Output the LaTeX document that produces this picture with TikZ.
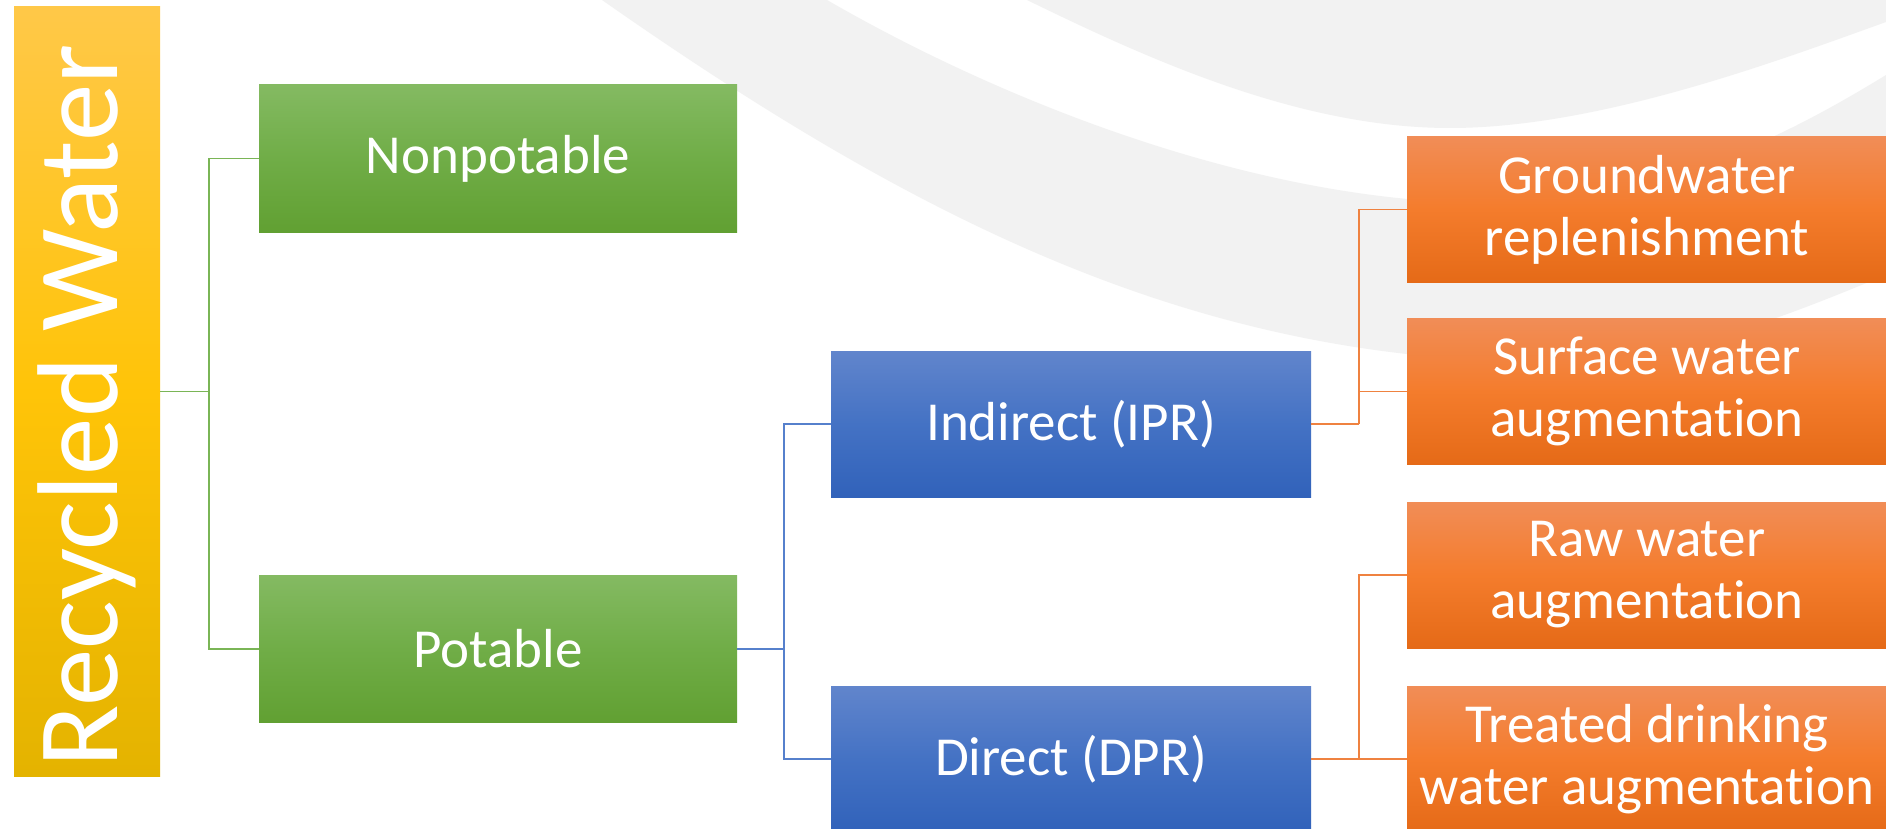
\documentclass[tikz,border=0pt]{standalone}
\usepackage{fontspec}
\setmainfont{Carlito}[RawFeature={-liga;-clig;-calt;-dlig}]
\definecolor{bggray}{HTML}{F2F2F2}
\definecolor{gTop}{HTML}{84BA62}
\definecolor{gMid}{HTML}{70AD47}
\definecolor{gBot}{HTML}{61A032}
\definecolor{bTop}{HTML}{6185CC}
\definecolor{bMid}{HTML}{4472C4}
\definecolor{bBot}{HTML}{3162BA}
\definecolor{oTop}{HTML}{F18D57}
\definecolor{oMid}{HTML}{F47C2C}
\definecolor{oBot}{HTML}{E56A17}
\definecolor{yTop}{HTML}{FFC848}
\definecolor{yMid}{HTML}{FFC408}
\definecolor{yBot}{HTML}{E4B300}
\definecolor{gLine}{HTML}{7AB556}
\definecolor{bLine}{HTML}{5680CC}
\definecolor{oLine}{HTML}{EF8240}
\tikzset{
  box/.style={rectangle, inner sep=0pt, text=white, align=center,
    font=\fontsize{55}{62}\selectfont},
  gbox/.style={box, minimum width=478pt, minimum height=147pt,
    top color=gTop, bottom color=gBot, middle color=gMid},
  bbox/.style={box, minimum width=480pt, minimum height=146pt,
    top color=bTop, bottom color=bBot, middle color=bMid},
  obox/.style={box, minimum width=480pt, minimum height=146pt,
    top color=oTop, bottom color=oBot, middle color=oMid},
  ybox/.style={box, minimum width=146pt, minimum height=769pt,
    top color=yTop, bottom color=yBot, middle color=yMid},
  gline/.style={draw=gLine, line width=1.6pt},
  bline/.style={draw=bLine, line width=1.6pt},
  oline/.style={draw=oLine, line width=1.6pt},
}
\begin{document}
\begin{tikzpicture}[x=1pt,y=-1pt]
\useasboundingbox (0,0) rectangle (1886,829);
\clip (0,0) rectangle (1886,829);
\fill[white] (0,0) rectangle (1886,829);
% background swooshes
\fill[bggray] (1027,0) .. controls (1150,60) and (1300,128) .. (1450,128)
  .. controls (1600,128) and (1780,60) .. (1886,22) -- (1886,0) -- cycle;
\fill[bggray] (827,0) .. controls (1000,100) and (1250,200) .. (1480,203)
  .. controls (1650,205) and (1780,140) .. (1886,75) -- (1886,275)
  .. controls (1800,310) and (1680,362) .. (1550,362)
  .. controls (1200,362) and (922,224) .. (602,0) -- cycle;
% boxes
\node[ybox] (rw) at (87,391.5) {};
\node[text=white, rotate=90, font=\fontsize{115}{120}\selectfont] (rwt) at (87,406) {Recycled Water};
\node[gbox] (np) at (498,158.5) {Nonpotable};
\node[gbox] (pot) at (498,649) {Potable};
\node[bbox] (ipr) at (1071,424) {Indirect (IPR)};
\node[bbox] (dpr) at (1071,759) {Direct (DPR)};
\node[obox] (gw) at (1647,209.5) {Groundwater\\replenishment};
\node[obox] (sw) at (1647,391.5) {Surface water\\augmentation};
\node[obox] (raw) at (1647,575) {Raw water\\augmentation};
\node[obox] (td) at (1647,759) {Treated drinking\\water augmentation};
% junctions
\coordinate (gj) at (209,391.5);
\coordinate (bj) at (784,649);
\coordinate (oj1) at (1359,424);
\coordinate (oj2) at (1359,759);
% connectors
\draw[gline] (rw.east) -- (gj);
\draw[gline] (gj) |- (np.west);
\draw[gline] (gj) |- (pot.west);
\draw[bline] (pot.east) -- (bj);
\draw[bline] (bj) |- (ipr.west);
\draw[bline] (bj) |- (dpr.west);
\draw[oline] (ipr.east) -- (oj1);
\draw[oline] (oj1) |- (gw.west);
\draw[oline] (oj1) |- (sw.west);
\draw[oline] (dpr.east) -- (oj2);
\draw[oline] (oj2) |- (raw.west);
\draw[oline] (oj2) |- (td.west);
\end{tikzpicture}
\end{document}
